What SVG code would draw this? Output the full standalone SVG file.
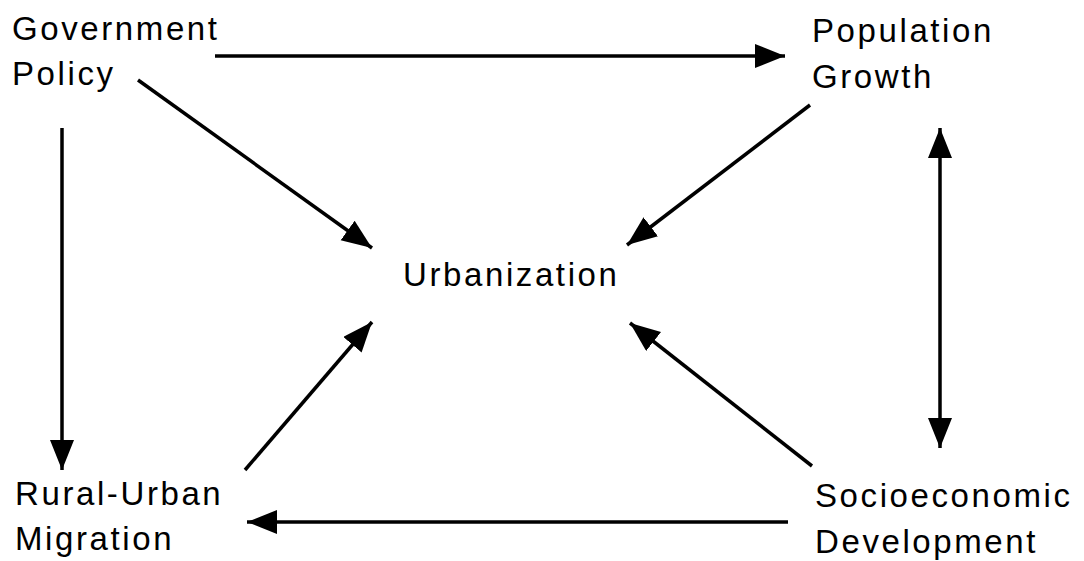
<svg xmlns="http://www.w3.org/2000/svg" width="1084" height="561" viewBox="0 0 1084 561">
<style>
text{font-family:"Liberation Sans",Arial,sans-serif;font-size:33px;letter-spacing:2.6px;fill:#000}
.c line{stroke:#000;stroke-width:3.5;marker-end:url(#ah)}
</style>
<defs>
<marker id="ah" markerUnits="userSpaceOnUse" markerWidth="34" markerHeight="26" refX="30" refY="12" orient="auto-start-reverse" viewBox="0 0 34 26">
<path d="M0,0 L30,12 L0,24 z" fill="#000"/>
</marker>
</defs>
<rect width="1084" height="561" fill="#fff"/>
<g id="n-gov"><text x="12" y="40">Government</text><text x="12" y="85">Policy</text></g>
<g id="n-pop"><text x="812" y="42">Population</text><text x="812" y="88">Growth</text></g>
<g id="n-urb"><text x="403" y="286">Urbanization</text></g>
<g id="n-rur"><text x="15" y="505">Rural-Urban</text><text x="15" y="550">Migration</text></g>
<g id="n-soc"><text x="815" y="507">Socioeconomic</text><text x="815" y="553">Development</text></g>
<g id="connectors" class="c">
<line x1="215" y1="56" x2="785" y2="56"/>
<line x1="138" y1="80" x2="372" y2="248"/>
<line x1="62" y1="128" x2="62" y2="470"/>
<line x1="810" y1="105" x2="627" y2="245"/>
<line x1="940" y1="448" x2="940" y2="128" style="marker-start:url(#ah)"/>
<line x1="245" y1="470" x2="372" y2="322"/>
<line x1="812" y1="466" x2="630" y2="323"/>
<line x1="788" y1="522" x2="247" y2="522"/>
</g>
</svg>
